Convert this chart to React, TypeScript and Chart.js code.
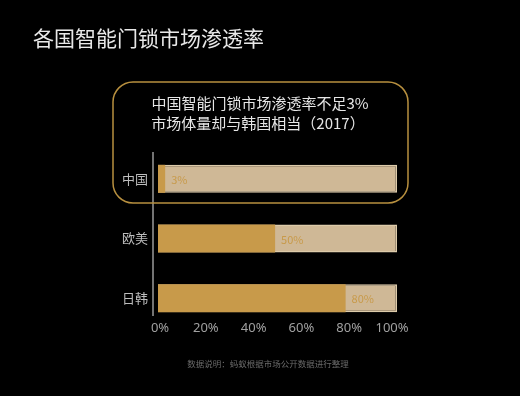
import React, { useEffect, useRef } from "react";
import { Chart, registerables } from "chart.js";

Chart.register(...registerables);

const titleText = "各国智能门锁市场渗透率";
const calloutLines = ["中国智能门锁市场渗透率不足3%", "市场体量却与韩国相当（2017）"];
const footnoteText = "数据说明：蚂蚁根据市场公开数据进行整理";
const categories = ["中国", "欧美", "日韩"];
const penetration = [3, 49, 78.5];
const penetrationLabels = ["3%", "50%", "80%"];
const fullValues = [100, 100, 100];
const xTicks = [0, 20, 40, 60, 80, 100];

const GOLD = "#C89A4A";
const LIGHT = "#CFB896";
const CJK = '"Noto Sans CJK SC", "Noto Sans", sans-serif';

const decorPlugin = {
  id: "decor",
  beforeDraw(chart: any) {
    const ctx = chart.ctx;
    ctx.save();
    ctx.fillStyle = "#000";
    ctx.fillRect(0, 0, chart.width, chart.height);
    ctx.restore();
  },
  afterDatasetsDraw(chart: any) {
    const ctx = chart.ctx;
    const meta = chart.getDatasetMeta(0);
    ctx.save();
    ctx.font = `11px ${CJK}`;
    ctx.fillStyle = GOLD;
    ctx.textAlign = "left";
    ctx.textBaseline = "middle";
    meta.data.forEach((el: any, i: number) => {
      ctx.fillText(penetrationLabels[i], el.x + 6, el.y + 1);
    });
    ctx.restore();
  },
  afterDraw(chart: any) {
    const ctx = chart.ctx;
    const area = chart.chartArea;
    const xs = chart.scales.x;
    ctx.save();
    // x tick labels
    ctx.font = `13px "Noto Sans", sans-serif`;
    ctx.fillStyle = "#a0a0a0";
    ctx.textAlign = "center";
    ctx.textBaseline = "middle";
    xTicks.forEach((v, i) => {
      let x = xs.getPixelForValue(v);
      if (i === 0) x += 2;
      if (i === xTicks.length - 1) x -= 5;
      ctx.fillText(`${v}%`, x, 328);
    });
    // title
    ctx.font = `21px ${CJK}`;
    ctx.fillStyle = "#e8e8e8";
    ctx.textAlign = "left";
    ctx.fillText(titleText, 33, 38);
    // axis line
    ctx.strokeStyle = "#9a9a9a";
    ctx.lineWidth = 1.5;
    ctx.beginPath();
    ctx.moveTo(area.left - 5, 152);
    ctx.lineTo(area.left - 5, 316);
    ctx.stroke();
    // callout box
    ctx.strokeStyle = "#B8903F";
    ctx.lineWidth = 1.5;
    ctx.beginPath();
    (ctx as any).roundRect(113, 82, 295, 121, 20);
    ctx.stroke();
    ctx.font = `15px ${CJK}`;
    ctx.fillStyle = "#e6e6e6";
    ctx.textAlign = "center";
    ctx.fillText(calloutLines[0], 260, 103);
    ctx.fillText(calloutLines[1], 258, 123);
    // footnote
    ctx.font = `8.5px ${CJK}`;
    ctx.fillStyle = "#6a6a6a";
    ctx.fillText(footnoteText, 268, 364);
    ctx.restore();
  },
};

export default function App() {
  const ref = useRef<HTMLCanvasElement | null>(null);
  useEffect(() => {
    if (!ref.current) return;
    const chart = new Chart(ref.current, {
      type: "bar",
      data: {
        labels: categories,
        datasets: [
          {
            data: penetration,
            backgroundColor: GOLD,
            borderWidth: 0,
            grouped: false,
            barPercentage: 0.47,
            categoryPercentage: 1,
          } as any,
          {
            data: fullValues,
            backgroundColor: LIGHT,
            borderColor: "#DDCBAA",
            borderWidth: 1.5,
            grouped: false,
            barPercentage: 0.47,
            categoryPercentage: 1,
          } as any,
        ],
      },
      options: {
        indexAxis: "y",
        responsive: false,
        animation: false,
        devicePixelRatio: 1,
        layout: { padding: { left: 118, right: 123, top: 149, bottom: 48 } },
        plugins: { legend: { display: false }, tooltip: { enabled: false }, title: { display: false } },
        scales: {
          x: {
            min: 0,
            max: 100,
            grid: { display: false, drawTicks: false },
            border: { display: false },
            afterBuildTicks: (scale: any) => {
              scale.ticks = xTicks.map((v) => ({ value: v }));
            },
            afterFit: (scale: any) => {
              scale.height = 20;
            },
            ticks: { display: false },
          },
          y: {
            grid: { display: false, drawTicks: false },
            border: { display: false },
            afterFit: (scale: any) => {
              scale.width = 40;
            },
            ticks: {
              color: "#bdbdbd",
              font: { size: 13, family: CJK },
              padding: 10,
            },
          },
        },
      },
      plugins: [decorPlugin],
    });
    return () => chart.destroy();
  }, []);
  return (
    <div style={{ position: "absolute", left: 0, top: 0, width: 520, height: 396, background: "#000" }}>
      <canvas ref={ref} width={520} height={396} style={{ display: "block" }} />
    </div>
  );
}
